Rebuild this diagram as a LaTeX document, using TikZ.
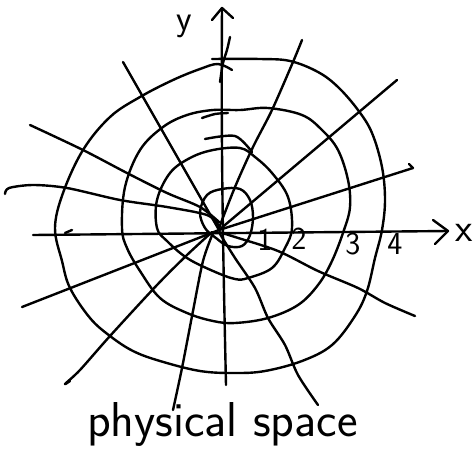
\documentclass[tikz,border=0pt]{standalone}
\begin{document}
\begin{tikzpicture}[x=1pt,y=-1pt,
  ink/.style={line width=2.4pt,line cap=round,line join=round,black},
  curve/.style={ink},
  lbl/.style={inner sep=0pt,font=\sffamily\fontsize{32}{34}\selectfont},
  axlbl/.style={inner sep=0pt,font=\sffamily\fontsize{40}{42}\selectfont}]
\useasboundingbox (0,0) rectangle (475,456);
% origin
\coordinate (O) at (219,230);
% ---- circles ----
\draw[curve] plot[smooth cycle,tension=0.6] coordinates {(222,189) (240,189) (250,200) (253,217) (250,235) (242,246) (228,246) (216,238) (205,228) (200,212) (207,195)};
\draw[curve] plot[smooth cycle,tension=0.6] coordinates {(213,150) (240,148) (255,157) (272,173) (288,197) (292,228) (285,248) (272,268) (248,278) (235,279) (213,271) (187,258) (167,241) (157,228) (157,200) (170,173) (190,158)};
\draw[curve] plot[smooth cycle,tension=0.6] coordinates {(213,110) (240,110) (268,108) (302,115) (322,130) (338,150) (348,180) (350,207) (344,230) (332,261) (318,285) (298,305) (268,318) (235,323) (213,321) (187,313) (160,298) (140,271) (127,248) (122,228) (125,187) (140,150) (163,127) (187,115)};
\draw[curve] plot[smooth,tension=0.6] coordinates {(212,59) (260,59) (290,61) (318,72) (338,87) (358,110) (372,133) (382,167) (385,200) (382,230) (375,258) (367,291) (355,316) (332,345) (302,361) (265,371) (235,373) (200,371) (160,361) (133,351) (110,336) (90,318) (70,288) (62,261) (55,228) (63,193) (83,150) (110,117) (140,97) (173,80) (200,69) (218,64) (232,70)};
% stray strokes
\draw[curve] plot[smooth] coordinates {(202,118) (215,114) (228,113)};
\draw[curve] plot[smooth] coordinates {(205,139) (235,136) (252,152)};
% ---- radial lines ----
\coordinate (L1a) at (123,62);
\draw[curve] (L1a) -- (O);
\draw[curve] plot[smooth] coordinates {(30,125) (83,150) (127,173) (167,193) (200,207) (219,222)};
\draw[curve] plot[smooth] coordinates {(5,194) (9,188) (33,185) (67,188) (120,200) (167,207) (207,215) (219,226)};
\draw[curve] plot[smooth] coordinates {(302,40) (293,62) (272,110) (253,147) (235,187) (219,228)};
\coordinate (R2a) at (397,80);
\draw[curve] (R2a) -- (O);
\coordinate (R3a) at (409,164);
\coordinate (R3b) at (413,168);
\draw[curve] (R3a) -- (R3b) -- (O);
\draw[curve] plot[smooth] coordinates {(230,37) (227,50) (223,63) (220,82)};
\coordinate (LL1a) at (22,307);
\draw[curve] (LL1a) -- (O);
\draw[curve] plot[smooth] coordinates {(70,381) (65,384) (80,370) (110,336) (157,285) (187,255) (212,232)};
\draw[curve] plot[smooth] coordinates {(173,410) (182,368) (193,311) (203,261) (213,233)};
\draw[curve] plot[smooth] coordinates {(219,232) (235,237) (278,251) (318,271) (358,288) (385,303) (415,316)};
\draw[curve] plot[smooth] coordinates {(220,234) (235,258) (255,288) (268,318) (285,345) (298,375) (318,405)};
% ---- axes ----
\coordinate (xs) at (33,235);
\coordinate (xe) at (448,231);
\draw[ink] (xs) -- (xe);
\draw[ink] (65,233) -- (72,230);
\coordinate (ya) at (226,385);
\coordinate (ye) at (222,8);
\draw[ink] (ya) .. controls (223,250) and (221,150) .. (ye);
\coordinate (xa1) at (433,220);
\coordinate (xa2) at (435,244);
\draw[ink] (xa1) -- (xe) -- (xa2);
\coordinate (ya1) at (212,20);
\coordinate (ya2) at (233,18);
\draw[ink] (ya1) -- (ye) -- (ya2);
% ---- labels ----
\node[axlbl] (xl) at (464,233) {x};
\node[inner sep=0pt,anchor=base,font=\sffamily\fontsize{36}{38}\selectfont] (yl) at (184,30) {y};
\node[lbl] (n1) at (265,240) {1};
\node[lbl] (n2) at (299,239) {2};
\node[lbl] (n3) at (353,244) {3};
\node[lbl] (n4) at (395,244) {4};
\node[inner sep=0pt,anchor=base west,font=\sffamily\fontsize{49}{52}\selectfont] (title) at (87,436) {physical space};
\end{tikzpicture}
\end{document}
